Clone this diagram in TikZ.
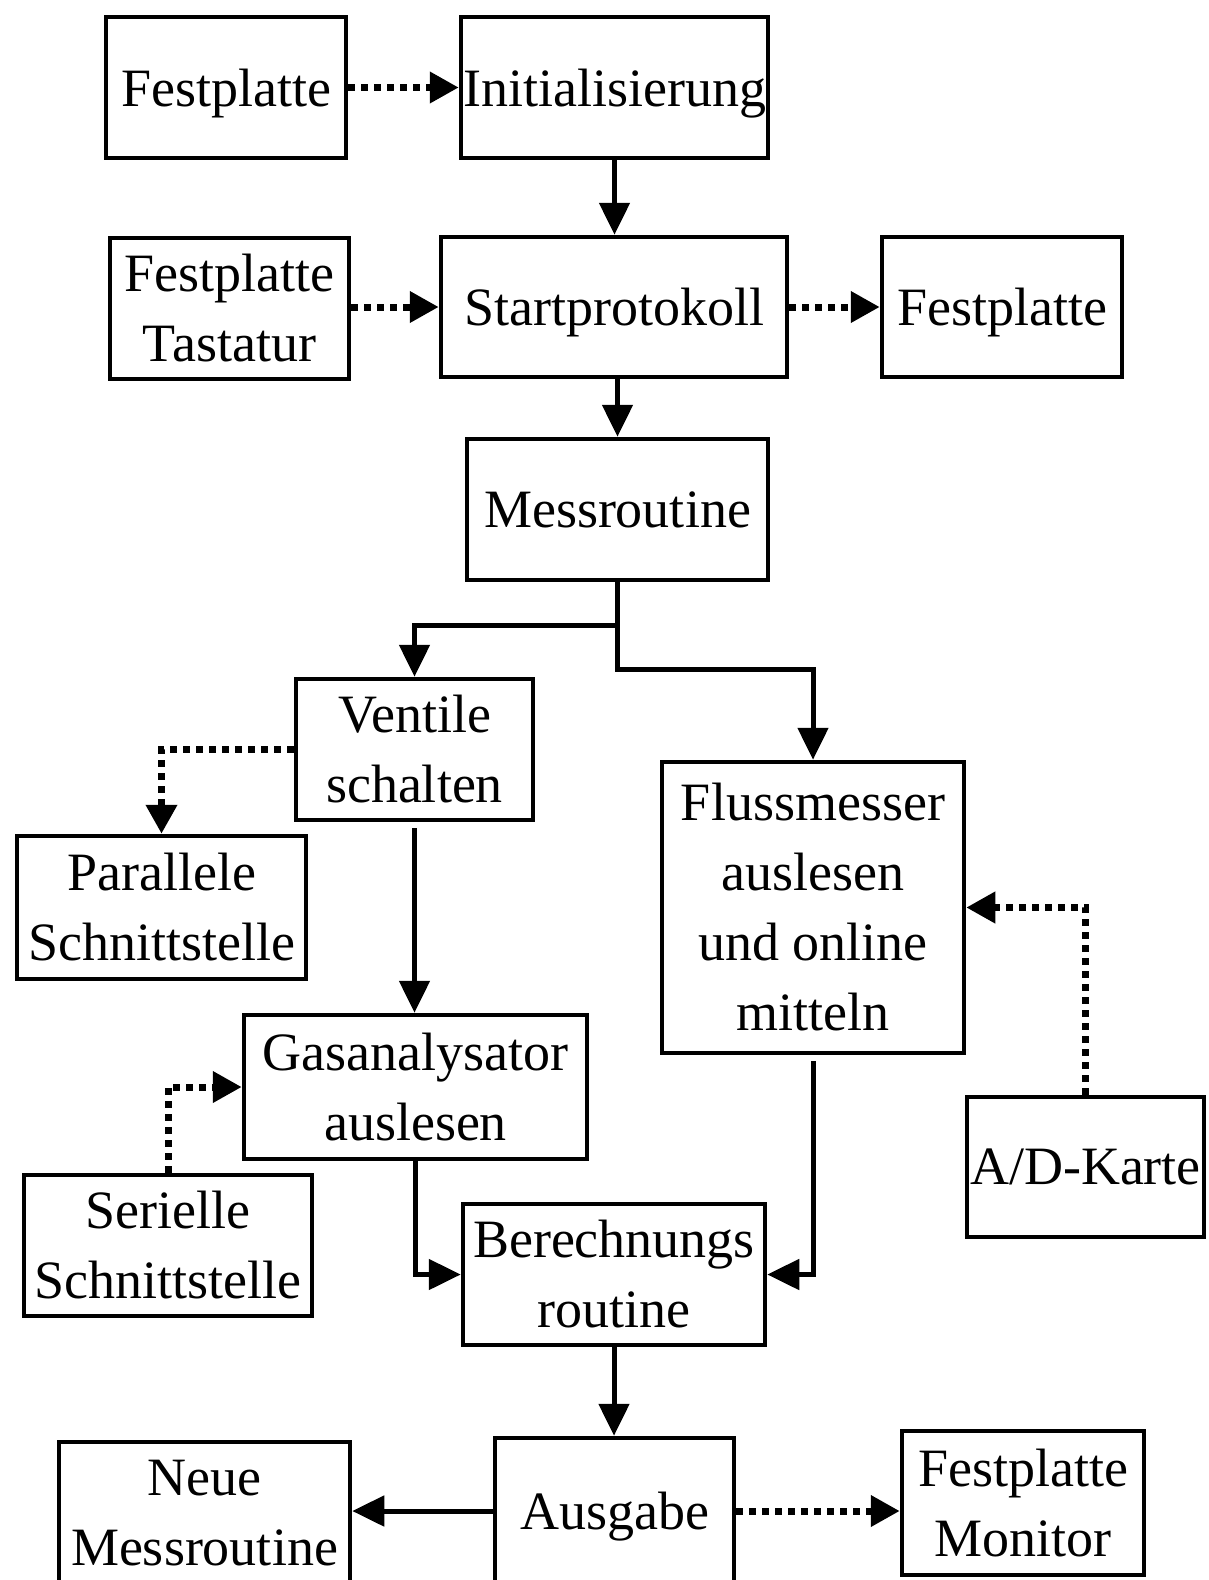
\documentclass[tikz,border=0pt]{standalone}
\usepackage{fontspec}
\setmainfont{Liberation Serif}
\usetikzlibrary{arrows.meta}
\begin{document}
\begin{tikzpicture}[x=1pt,y=-1pt,
  box/.style={draw, line width=4.5pt, inner sep=0pt, align=center, font=\fontsize{54}{70}\selectfont},
  oneline/.style={text depth=0pt},
  arr/.style={line width=5pt, -{Triangle[length=32pt,width=30pt]}},
  dotarr/.style={line width=7pt, dash pattern=on 7pt off 6pt, -{Triangle[length=29pt,width=30pt]}},
]
\clip (0,0) rectangle (1208,1580);
\fill[white] (0,0) rectangle (1208,1580);

\node[box, oneline, minimum width=240pt, minimum height=141pt] (f1) at (226,87.5) {Festplatte};
\node[box, oneline, minimum width=307pt, minimum height=141pt] (init) at (614.5,87.5) {Initialisierung};
\node[box, minimum width=239pt, minimum height=141pt] (ft) at (229.5,308.5) {Festplatte\\Tastatur};
\node[box, oneline, minimum width=346pt, minimum height=140pt] (start) at (614,307) {Startprotokoll};
\node[box, oneline, minimum width=240pt, minimum height=140pt] (f2) at (1002,307) {Festplatte};
\node[box, oneline, minimum width=301pt, minimum height=141pt] (mess) at (617.5,509.5) {Messroutine};
\node[box, minimum width=237pt, minimum height=141pt] (vent) at (414.5,749.5) {Ventile\\schalten};
\node[box, minimum width=289pt, minimum height=143pt] (par) at (161.5,907.5) {Parallele\\Schnittstelle};
\node[box, minimum width=302pt, minimum height=291pt] (fluss) at (813,907.5) {Flussmesser\\auslesen\\und online\\mitteln};
\node[box, oneline, minimum width=237pt, minimum height=140pt] (ad) at (1085.5,1167) {A/D-Karte};
\node[box, minimum width=343pt, minimum height=144pt] (gas) at (415.5,1087) {Gasanalysator\\auslesen};
\node[box, minimum width=288pt, minimum height=141pt] (ser) at (168,1245.5) {Serielle\\Schnittstelle};
\node[box, minimum width=302pt, minimum height=141pt] (ber) at (614,1274.5) {Berechnungs\\routine};
\node[box, oneline, minimum width=239pt, minimum height=146pt] (aus) at (614.5,1511) {Ausgabe};
\node[box, minimum width=291pt, minimum height=142pt] (neue) at (204.5,1513) {Neue\\Messroutine};
\node[box, minimum width=242pt, minimum height=144pt] (fm) at (1023,1503) {Festplatte\\Monitor};

\draw[dotarr] (f1.east) -- (init.west |- f1.east);
\draw[arr] (init.south) -- (start.north -| init.south);
\draw[dotarr] (ft.east |- start.west) -- (start.west);
\draw[dotarr] (start.east) -- (f2.west);
\draw[arr] (mess.north |- start.south) -- (mess.north);
\draw[arr] (mess.south) -- ++(0,43) -| (vent.north);
\draw[arr] (mess.south) -- ++(0,87) -| (fluss.north);
\draw[dotarr] (vent.west) -| (par.north);
\draw[arr, shorten <=6pt] (vent.south) -- (gas.north -| vent.south);
\draw[dotarr] (ser.north) |- (gas.west);
\draw[dotarr] (ad.north) |- (fluss.east);
\draw[arr] (gas.south) |- (ber.west);
\draw[arr, shorten <=6pt] (fluss.south) |- (ber.east);
\draw[arr] (ber.south) -- (aus.north -| ber.south);
\draw[arr] (aus.west) -- (neue.east |- aus.west);
\draw[dotarr] (aus.east) -- (fm.west |- aus.east);
\end{tikzpicture}
\end{document}
